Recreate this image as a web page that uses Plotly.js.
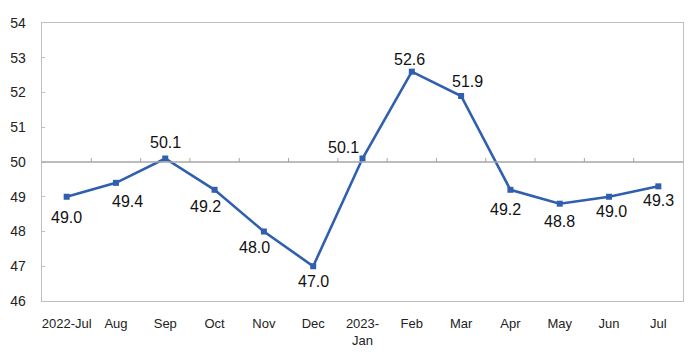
<!DOCTYPE html>
<html>
<head>
<meta charset="utf-8">
<script src="https://cdn.plot.ly/plotly-3.0.1.min.js"></script>
<style>html,body{margin:0;padding:0;background:#fff;}#chart{width:700px;height:354px;}</style>
</head>
<body>
<div id="chart"></div>
<script>
var categories = ["2022-Jul","Aug","Sep","Oct","Nov","Dec","2023-<br>Jan","Feb","Mar","Apr","May","Jun","Jul"];
var values = [49.0,49.4,50.1,49.2,48.0,47.0,50.1,52.6,51.9,49.2,48.8,49.0,49.3];
var labels = ["49.0","49.4","50.1","49.2","48.0","47.0","50.1","52.6","51.9","49.2","48.8","49.0","49.3"];
var yTicks = [46,47,48,49,50,51,52,53,54];
// label offsets (pixels) from each point, as placed in the reference
var labelDx = [0, 12, 0, -9, -9, 0, -19, -2, 6, -5, 0, 2, 0];
var labelDy = [21, 19, -16, 17, 16, 15, -11, -12, -14, 20, 18, 15, 14];

var trace = {
  x: categories, y: values,
  type: 'scatter', mode: 'lines+markers',
  line: {color: '#2f5fae', width: 2.6},
  marker: {symbol: 'square', size: 6, color: '#2f5fae'},
  cliponaxis: false, hoverinfo: 'skip'
};

var annotations = categories.map(function (c, i) {
  return {
    x: c, y: values[i], xref: 'x', yref: 'y', text: labels[i],
    showarrow: false, xanchor: 'center', yanchor: 'middle',
    xshift: labelDx[i], yshift: -labelDy[i],
    font: {family: 'Liberation Sans, Arial, sans-serif', size: 16, color: '#111'}
  };
});

var shapes = [{type: 'line', xref: 'paper', x0: 0, x1: 1, yref: 'y', y0: 50, y1: 50, line: {color: '#a6a6a6', width: 1.3}}];
for (var i = 0; i < categories.length - 1; i++) {
  shapes.push({type: 'line', xref: 'x', x0: i + 0.5, x1: i + 0.5, yref: 'y', ysizemode: 'pixel', yanchor: 50, y0: 0, y1: 4, line: {color: '#a6a6a6', width: 1}});
}

var layout = {
  width: 700, height: 354,
  margin: {l: 42, r: 17, t: 23, b: 53},
  paper_bgcolor: '#fff', plot_bgcolor: '#fff',
  showlegend: false,
  font: {family: 'Liberation Sans, Arial, sans-serif', color: '#222'},
  xaxis: {
    type: 'category', range: [-0.5, 12.5],
    showgrid: false, zeroline: false,
    showline: true, linecolor: '#bfbfbf', linewidth: 1.3, mirror: true,
    ticks: '', tickfont: {size: 13, color: '#222'}, ticklabelstandoff: 10
  },
  yaxis: {
    range: [46, 54], tickvals: yTicks,
    showgrid: false, zeroline: false,
    showline: true, linecolor: '#bfbfbf', linewidth: 1.3, mirror: true,
    ticks: 'inside', ticklen: 3, tickcolor: '#bfbfbf',
    tickfont: {size: 14, color: '#222'}, ticklabelstandoff: 12
  },
  shapes: shapes,
  annotations: annotations
};

Plotly.newPlot('chart', [trace], layout, {displayModeBar: false, staticPlot: true});
</script>
</body>
</html>
